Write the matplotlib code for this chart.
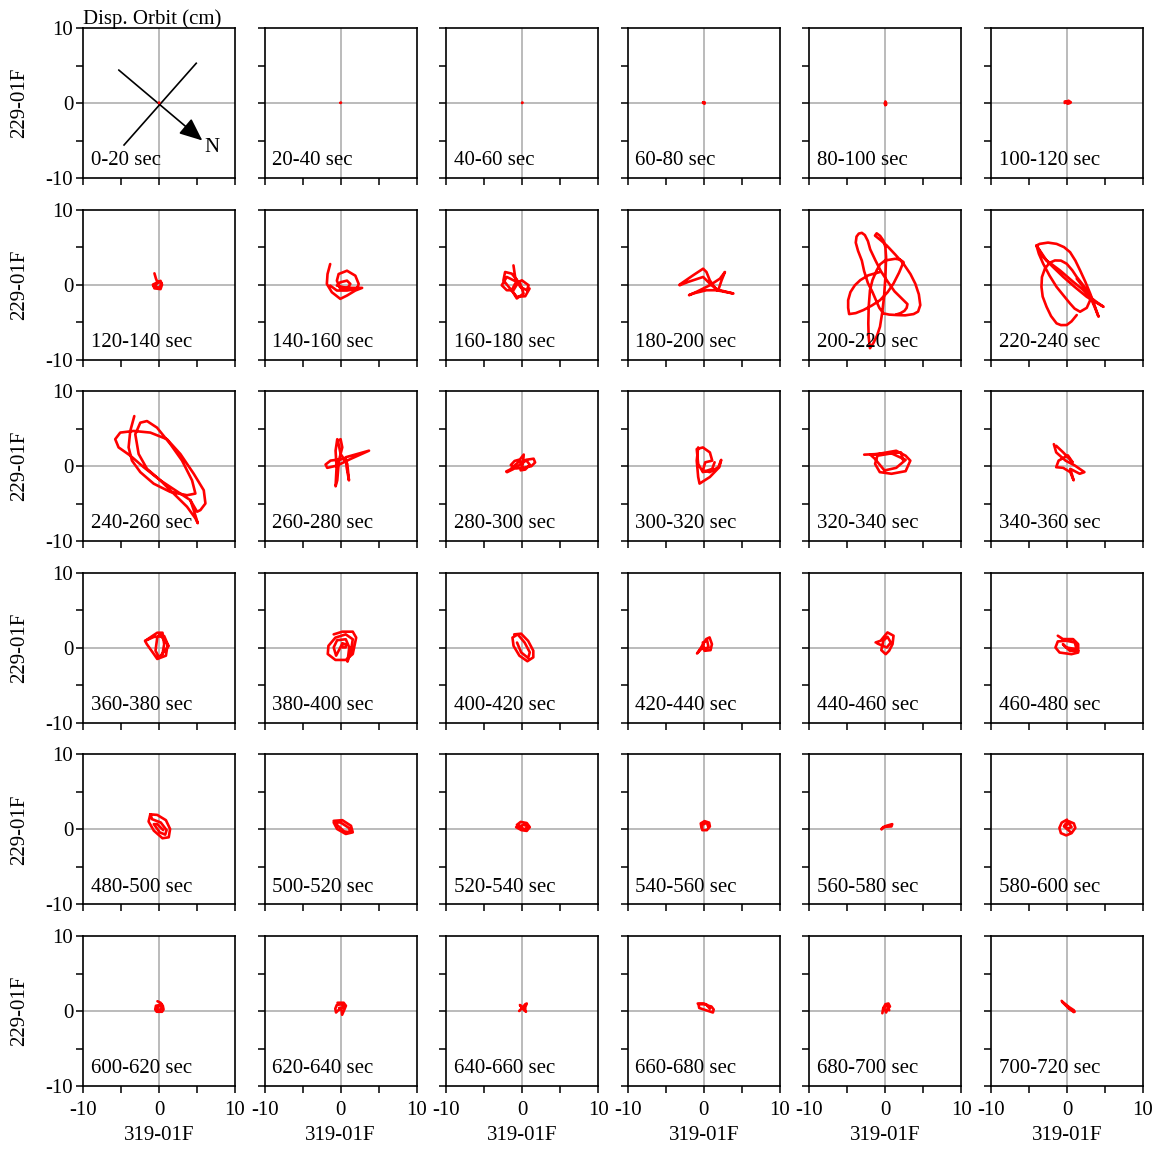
import matplotlib
matplotlib.use("Agg")
import matplotlib.pyplot as plt

plt.rcParams['font.family'] = ['Liberation Serif', 'DejaVu Serif']

W, H = 1161, 1151

# ---- data -------------------------------------------------------------
window_labels = ["0-20 sec", "20-40 sec", "40-60 sec", "60-80 sec", "80-100 sec", "100-120 sec",
                 "120-140 sec", "140-160 sec", "160-180 sec", "180-200 sec", "200-220 sec", "220-240 sec",
                 "240-260 sec", "260-280 sec", "280-300 sec", "300-320 sec", "320-340 sec", "340-360 sec",
                 "360-380 sec", "380-400 sec", "400-420 sec", "420-440 sec", "440-460 sec", "460-480 sec",
                 "480-500 sec", "500-520 sec", "520-540 sec", "540-560 sec", "560-580 sec", "580-600 sec",
                 "600-620 sec", "620-640 sec", "640-660 sec", "660-680 sec", "680-700 sec", "700-720 sec"]

x_tick_labels = ["-10", "0", "10"]
y_tick_labels = ["-10", "0", "10"]
all_ticks = [-10, -5, 0, 5, 10]
x_axis_name = "319-01F"
y_axis_name = "229-01F"
title_text = "Disp. Orbit (cm)"

# orientation guide in first panel
guide_line_a = [(-5.3, 4.4), (5.7, -5.0)]
guide_line_b = [(-4.6, -5.6), (4.9, 5.3)]
north_label = (7.0, -5.9)

orbit_000 = [(0.0, 0.0), (0.05, 0.05), (0.0, 0.05)]
orbit_020 = [(0.0, 0.0), (0.05, 0.05), (0.0, 0.05)]
orbit_040 = [(0.0, 0.0), (0.05, 0.05), (0.0, 0.05)]
orbit_060 = [(-0.1, 0.0), (0.1, 0.1), (0.1, -0.1), (-0.1, 0.1)]
orbit_080 = [(0.0, -0.3), (0.1, 0.0), (0.0, 0.2), (-0.1, -0.1), (0.1, -0.2)]
orbit_100 = [(-0.3, 0.0), (0.2, 0.3), (0.5, 0.1), (0.1, -0.1), (-0.3, 0.2), (0.4, 0.0)]
orbit_120 = [(-0.6, 1.5), (-0.4, 0.8), (-0.2, 0.3), (-0.8, 0.0), (-0.6, -0.5), (0.2, -0.6), (0.4, 0.0),
             (0.2, 0.5), (-0.3, 0.2), (-0.5, -0.3), (0.1, -0.4), (0.3, 0.2), (-0.1, 0.4), (-0.7, -0.2)]
orbit_140 = [(-1.37, 2.74), (-1.72, 1.41), (-1.81, 0.09), (-1.15, -1.02), (-0.04, -1.90), (0.84, -1.46),
             (1.94, -0.79), (2.83, -0.44), (1.50, -0.44), (0.40, -0.35), (-0.49, -0.13), (-0.04, 0.31),
             (0.84, 0.53), (1.28, 0.09), (0.84, -0.57), (-0.04, -0.57), (-0.49, 0.53), (-0.26, 1.41),
             (0.84, 1.85), (1.94, 1.19), (2.38, 0.09), (2.16, -0.57), (0.84, -0.79), (-0.49, -0.79),
             (-1.37, -0.13)]
orbit_160 = [(-1.15, 2.56), (-0.93, 1.02), (-0.26, -0.31), (0.62, -0.75), (0.84, -0.09), (-0.04, 0.57),
             (-0.93, 0.13), (-1.37, -0.75), (-0.71, -1.85), (0.18, -1.19), (-0.26, 0.13), (-2.03, 1.02),
             (-2.69, -0.09), (-2.03, -0.75), (-1.15, -0.75), (-0.49, 0.35), (-1.37, 1.46), (-2.25, 1.68),
             (-2.47, 0.57), (-1.59, -0.53), (-0.71, -1.63), (0.40, -1.55), (0.97, -0.53)]
orbit_180 = [(-3.18, 0.0), (-1.41, 1.24), (-0.09, 2.12), (0.35, 1.68), (0.79, 0.57), (1.68, -0.75),
             (3.89, -1.19), (2.12, -0.75), (0.35, -0.75), (-1.41, -1.19), (-1.94, -1.41), (-0.97, -0.97),
             (0.79, -0.09), (2.12, 0.79), (2.78, 1.68), (2.34, 0.57), (1.90, -0.75), (1.02, -0.09),
             (-0.09, 1.02), (-2.08, 0.35), (-3.18, -0.09)]
orbit_200 = [(-0.71, 1.68), (-2.25, 1.24), (-3.30, 0.60), (-4.02, -0.09), (-4.60, -1.00), (-4.90, -2.08),
             (-4.90, -3.10), (-4.77, -3.93), (-3.90, -3.80), (-2.91, -3.40), (-1.80, -2.80), (-0.71, -2.08),
             (0.30, -1.00), (1.06, 0.13), (1.80, 1.60), (2.38, 3.00), (1.90, 3.35), (1.28, 3.44),
             (-0.04, 3.22), (-0.70, 2.70), (-1.15, 1.90), (-1.70, 0.60), (-2.03, -0.75), (-2.20, -3.00),
             (-2.25, -5.17), (-2.20, -7.00), (-2.03, -8.48), (-1.59, -7.81), (-1.10, -6.80), (-0.71, -5.61),
             (-0.40, -3.60), (-0.18, -1.63), (0.00, 1.00), (0.09, 3.66), (0.00, 5.00), (-0.26, 5.87),
             (-0.70, 6.50), (-1.15, 6.84), (-1.37, 6.53), (-0.60, 5.90), (0.18, 5.21), (1.30, 4.00),
             (2.38, 2.78), (3.30, 1.40), (3.93, 0.13), (4.40, -1.30), (4.59, -2.74), (4.30, -3.60),
             (3.71, -3.93), (2.60, -4.10), (1.50, -4.06), (0.50, -4.00), (-0.26, -3.84), (-0.80, -3.10),
             (-1.15, -2.30), (-1.70, -1.00), (-2.30, 0.20), (-2.80, 1.80), (-3.10, 3.20), (-3.60, 4.50),
             (-3.90, 5.60), (-3.80, 6.40), (-3.50, 6.80), (-3.10, 6.90), (-2.70, 6.60), (-2.30, 5.80),
             (-2.00, 4.70), (-1.30, 3.20), (-0.60, 1.80), (0.30, 0.40), (1.20, -0.90), (2.10, -1.80),
             (2.90, -2.60), (2.80, -3.10), (2.50, -3.50), (2.00, -3.80), (1.40, -4.00)]
orbit_220 = [(1.28, -4.06), (0.60, -4.90), (-0.04, -5.39), (-0.80, -5.40), (-1.37, -5.17), (-2.10, -4.20),
             (-2.69, -2.96), (-3.20, -1.60), (-3.36, -0.31), (-3.30, 1.00), (-2.91, 2.12), (-2.30, 2.90),
             (-1.59, 3.22), (-0.80, 3.20), (-0.04, 2.78), (0.70, 1.90), (1.28, 1.02), (2.00, 0.10),
             (2.60, -0.75), (3.00, -1.40), (3.05, -2.08), (2.60, -3.10), (1.72, -3.62), (1.00, -3.20),
             (0.40, -2.52), (-0.50, -1.40), (-1.37, -0.31), (-2.30, 1.20), (-3.13, 2.78), (-3.70, 4.10),
             (-4.02, 5.21), (-3.58, 5.43), (-2.50, 5.60), (-1.37, 5.43), (-0.40, 5.00), (0.40, 4.33),
             (1.10, 3.20), (1.72, 1.90), (2.40, 0.40), (3.05, -1.19), (3.60, -2.70), (4.15, -4.28),
             (3.60, -2.90), (3.05, -1.63), (2.00, -0.60), (0.84, 0.35), (-0.93, 1.90), (-2.69, 3.22),
             (-4.02, 5.21), (-3.13, 3.66), (-1.80, 2.30), (-0.49, 1.02), (1.00, -0.30), (2.60, -1.63),
             (3.70, -2.30), (4.81, -2.96), (4.00, -2.40), (3.27, -1.85), (2.30, -0.50), (1.28, 0.79)]
orbit_240 = [(-3.25, 6.68), (-3.78, 4.70), (-4.00, 2.51), (-3.56, 0.75), (-2.46, -0.79), (-0.70, -2.33),
             (1.49, -3.43), (3.69, -3.87), (4.79, -3.65), (4.35, -1.89), (3.03, 0.75), (1.49, 2.95),
             (-0.26, 5.14), (-1.58, 6.02), (-2.46, 5.80), (-3.12, 4.26), (-2.68, 1.63), (-1.58, -0.35),
             (0.18, -1.89), (2.15, -3.21), (4.13, -4.53), (5.01, -6.07), (5.45, -5.85), (6.11, -4.97),
             (5.89, -3.21), (4.57, -1.01), (2.81, 1.63), (1.05, 3.60), (-1.14, 4.48), (-3.34, 4.70),
             (-5.10, 4.48), (-5.76, 3.60), (-5.32, 2.51), (-3.78, 1.41), (-2.02, -0.13), (0.18, -1.89),
             (1.93, -3.65), (3.69, -5.41), (4.79, -6.95), (5.10, -7.60), (4.57, -5.85), (4.13, -4.53)]
orbit_260 = [(-0.44, 3.60), (-0.66, 2.07), (-0.53, -0.13), (-0.66, -2.68), (-0.44, -1.89), (-0.22, 0.75),
             (0.22, 2.51), (0.0, 3.60), (-0.35, 3.38), (0.0, 1.63), (0.88, 0.31), (1.10, -1.89),
             (0.79, -0.13), (0.66, 1.19), (3.74, 2.07), (1.32, 0.97), (-0.44, 0.09), (-1.76, -0.22),
             (-1.98, 0.22), (-1.32, 0.75), (0.44, 0.97)]
orbit_280 = [(-2.0, -0.8), (-1.2, -0.4), (-0.3, 0.2), (0.5, 0.85), (1.5, 1.0), (1.7, 0.5), (1.2, 0.0),
             (0.2, -0.2), (-0.8, -0.3), (-1.5, 0.15), (-1.0, 0.7), (-0.3, 0.9), (0.2, 1.55), (0.1, 0.35),
             (-0.2, -0.55), (0.4, -0.45), (1.0, 0.2), (0.6, 0.7), (-0.5, 0.55), (-1.6, -0.45), (-2.1, -0.7)]
orbit_300 = [(-0.74, 2.50), (-0.93, 0.74), (-0.74, -1.44), (-0.56, -2.32), (0.80, -1.44), (2.04, -0.13),
             (2.29, 0.84), (1.92, -0.13), (0.80, -0.79), (-0.12, -0.57), (0.19, 0.52), (1.11, 0.74),
             (0.80, 1.84), (-0.12, 2.50), (-0.93, 2.28), (-0.74, 0.30), (-0.12, -0.79), (1.11, -0.35),
             (1.42, 0.52)]
orbit_320 = [(-2.79, 1.54), (-1.05, 1.62), (1.42, 2.06), (2.66, 1.40), (3.28, 0.74), (2.66, -0.66),
             (0.80, -1.01), (-0.74, -0.79), (-1.36, 0.30), (-1.05, 1.40), (0.80, 1.71), (2.66, 0.84),
             (1.42, -0.22), (-0.12, -0.57), (-1.36, 0.96), (-1.98, 1.54), (2.04, 1.84), (2.35, 0.74)]
orbit_340 = [(-1.73, 2.94), (-1.42, 1.84), (-0.19, 0.74), (1.05, 0.08), (2.29, -0.79), (1.67, -1.01),
             (0.43, -0.35), (0.87, -1.88), (0.43, -0.79), (-0.50, -0.22), (-1.42, -0.13), (-1.11, 0.74),
             (0.12, 1.44), (0.74, 0.52), (-0.50, 1.84), (-1.42, 2.72)]
orbit_360 = [(-1.83, 0.92), (-0.68, 1.45), (0.68, 1.57), (1.14, 0.48), (0.91, -1.05), (-0.23, -1.49),
             (-0.68, -0.83), (-1.60, 0.48), (-1.83, 0.92), (-0.23, 2.01), (0.46, 2.01), (0.68, 0.48),
             (0.46, -0.83), (0.0, -1.27), (-0.46, -0.39), (-0.23, 1.36), (0.09, 1.79), (1.28, 0.26),
             (0.23, -1.05)]
orbit_380 = [(-0.91, 1.79), (0.23, 2.15), (1.60, 2.15), (2.05, 1.36), (1.60, -0.83), (0.68, -1.62),
             (-0.68, -1.62), (-1.69, -0.83), (-1.60, 0.26), (-0.68, 1.36), (0.68, 1.79), (1.60, 1.14),
             (1.37, -0.39), (0.91, -1.84), (1.14, 0.05), (0.68, 1.14), (-0.46, 1.01), (-0.91, 0.05),
             (-0.59, -1.05), (0.23, 0.57), (0.68, 0.48), (0.68, 0.05), (0.23, 0.05), (0.23, 0.57)]
orbit_400 = [(-1.05, 1.79), (-0.14, 1.88), (0.78, 0.92), (1.46, -0.39), (1.46, -1.27), (0.68, -1.79),
             (-0.37, -1.05), (-1.14, 0.26), (-1.28, 1.36), (-0.59, 1.79), (0.32, 0.70), (1.00, -0.61),
             (0.78, -1.36), (-0.14, -0.61), (-0.68, 0.70)]
orbit_420 = [(-0.80, -0.63), (-0.36, 0.04), (0.31, 1.16), (0.76, 1.38), (1.07, 0.49), (0.89, -0.31),
             (0.09, -0.40), (-0.13, 0.71), (0.45, 0.94), (0.63, 0.04), (-0.36, -0.18), (-0.89, -0.76)]
orbit_440 = [(-1.29, 0.71), (-0.63, 0.94), (0.27, 2.05), (1.07, 1.61), (0.94, 0.49), (0.49, -0.40),
             (0.04, -0.85), (-0.54, -0.31), (-0.27, 0.94), (0.27, 1.47), (0.71, 0.71), (0.18, 0.04),
             (-1.07, 0.58)]
orbit_460 = [(-1.21, 1.61), (-0.54, 1.16), (0.80, 1.16), (1.47, 0.49), (1.47, -0.63), (0.58, -0.85),
             (-0.98, -0.63), (-1.52, 0.04), (-1.21, 0.85), (-0.09, 0.94), (1.03, 0.71), (1.25, -0.18),
             (-0.09, 0.04), (-0.54, 0.49), (0.36, -0.40), (1.47, -0.40)]
orbit_480 = [(-1.14, 2.01), (-0.23, 1.93), (0.91, 1.23), (1.46, 0.05), (1.28, -1.05), (0.46, -1.18),
             (-0.68, -0.17), (-1.37, 1.05), (-1.14, 2.01), (-0.91, 1.36), (0.23, 0.92), (1.00, -0.09),
             (0.82, -0.70), (0.09, -0.39), (-0.68, 0.70), (-0.23, 0.70), (0.55, -0.09)]
orbit_500 = [(-0.91, 1.14), (0.23, 1.23), (1.37, 0.48), (1.60, -0.39), (0.68, -0.61), (-0.46, 0.05),
             (-0.91, 0.92), (0.0, 0.92), (1.14, 0.17), (1.23, -0.39), (0.46, -0.26), (-0.59, 0.70)]
orbit_520 = [(-0.7, 0.6), (-0.2, 1.0), (0.6, 0.85), (1.0, 0.3), (0.6, -0.2), (-0.1, -0.1), (-0.8, 0.3),
             (0.2, 0.6), (0.8, 0.4), (0.3, 0.0), (-0.5, 0.5)]
orbit_540 = [(-0.3, 0.2), (-0.4, 0.8), (0.1, 1.1), (0.7, 0.9), (0.8, 0.4), (0.4, -0.1), (-0.2, -0.1),
             (-0.2, 0.6), (0.4, 0.9), (0.6, 0.3)]
orbit_560 = [(-0.5, 0.0), (-0.3, 0.3), (0.2, 0.5), (0.9, 0.7), (0.8, 0.4), (0.0, 0.35), (-0.5, 0.1)]
orbit_580 = [(0.0, 1.3), (-0.7, 0.9), (-1.0, 0.2), (-0.8, -0.5), (-0.1, -0.8), (0.6, -0.5), (1.1, 0.2),
             (0.9, 0.8), (0.2, 1.1), (-0.3, 0.6), (0.0, 0.1), (0.6, 0.3), (0.3, 0.8), (-0.4, 0.4),
             (0.4, -0.3)]
orbit_600 = [(-0.2, 1.3), (0.2, 1.1), (0.5, 0.7), (0.6, 0.2), (0.4, -0.1), (-0.3, -0.1), (-0.5, 0.2),
             (-0.4, 0.7), (0.1, 0.8), (0.4, 0.4), (0.0, 0.1), (-0.3, 0.4), (0.3, 0.9)]
orbit_620 = [(-0.4, 1.1), (0.4, 1.1), (0.7, 0.7), (0.5, 0.2), (0.2, -0.5), (0.1, 0.3), (-0.3, 0.1),
             (-0.6, -0.2), (-0.7, 0.3), (-0.5, 0.8), (0.1, 0.9), (0.5, 0.5), (-0.2, 0.4)]
orbit_640 = [(-0.4, 0.0), (0.0, 0.4), (0.4, 0.9), (0.6, 1.0), (0.4, 0.5), (0.4, 0.0), (0.1, 0.3),
             (-0.2, 0.7), (-0.3, 0.8), (0.1, 0.3), (0.5, -0.1)]
orbit_660 = [(-0.8, 1.0), (0.0, 1.0), (0.6, 0.7), (1.0, 0.6), (1.3, 0.2), (1.2, -0.2), (0.6, 0.0),
             (0.0, 0.2), (-0.6, 0.4), (-0.7, 0.9), (0.3, 0.9), (0.8, 0.3)]
orbit_680 = [(-0.4, -0.3), (-0.3, 0.3), (0.0, 0.9), (0.4, 1.0), (0.6, 0.6), (0.2, 0.2), (0.1, -0.2),
             (-0.2, 0.5), (0.3, 0.7), (0.5, 0.1)]
orbit_700 = [(-0.7, 1.35), (-0.4, 1.0), (0.0, 0.6), (0.5, 0.2), (1.0, -0.1), (0.9, 0.1), (0.3, 0.5),
             (-0.2, 0.9), (-0.6, 1.2), (0.2, 0.4), (0.9, -0.15)]

orbits = [orbit_000, orbit_020, orbit_040, orbit_060, orbit_080, orbit_100,
          orbit_120, orbit_140, orbit_160, orbit_180, orbit_200, orbit_220,
          orbit_240, orbit_260, orbit_280, orbit_300, orbit_320, orbit_340,
          orbit_360, orbit_380, orbit_400, orbit_420, orbit_440, orbit_460,
          orbit_480, orbit_500, orbit_520, orbit_540, orbit_560, orbit_580,
          orbit_600, orbit_620, orbit_640, orbit_660, orbit_680, orbit_700]

# ---- layout -------------------------------------------------------------
fig = plt.figure(figsize=(W / 100, H / 100), dpi=100)
col_left = [83 + 181.6 * i for i in range(6)]
row_top = [28 + 181.6 * j for j in range(6)]
ax_w, ax_h = 152, 150
FS = 15

for idx in range(36):
    r, c = divmod(idx, 6)
    left = col_left[c] / W
    bottom = 1 - (row_top[r] + ax_h) / H
    ax = fig.add_axes([left, bottom, ax_w / W, ax_h / H])
    ax.set_xlim(-10, 10)
    ax.set_ylim(-10, 10)
    ax.axhline(0, color='#a8a8a8', lw=1.1, zorder=1)
    ax.axvline(0, color='#a8a8a8', lw=1.1, zorder=1)
    pts = orbits[idx]
    xs = [p[0] for p in pts]
    ys = [p[1] for p in pts]
    ax.plot(xs, ys, color='#ff0000', lw=1.9, solid_joinstyle='round',
            solid_capstyle='round', zorder=3)
    ax.set_xticks(all_ticks)
    ax.set_yticks(all_ticks)
    if c == 0:
        ax.set_yticklabels([y_tick_labels[0], "", y_tick_labels[1], "", y_tick_labels[2]])
    else:
        ax.set_yticklabels([])
    if r == 5:
        ax.set_xticklabels([x_tick_labels[0], "", x_tick_labels[1], "", x_tick_labels[2]])
    else:
        ax.set_xticklabels([])
    ax.tick_params(axis='y', direction='out', length=5, width=1.1, labelsize=FS, pad=2,
                   right=False, colors='black')
    ax.tick_params(axis='x', direction='out', length=5, width=1.1, labelsize=FS, pad=6,
                   top=False, colors='black')
    for s in ax.spines.values():
        s.set_linewidth(1.2)
        s.set_color('black')
    ax.text(0.05, 0.115, window_labels[idx], transform=ax.transAxes,
            fontsize=FS, ha='left', va='center', zorder=4)

    if idx == 0:
        ax.plot([guide_line_b[0][0], guide_line_b[1][0]], [guide_line_b[0][1], guide_line_b[1][1]],
                color='black', lw=1.2, zorder=2)
        ax.annotate("", xy=guide_line_a[1], xytext=guide_line_a[0],
                    arrowprops=dict(arrowstyle='-|>,head_length=1.4,head_width=0.6',
                                    color='black', lw=1.2, shrinkA=0, shrinkB=0), zorder=2)
        ax.text(north_label[0], north_label[1], "N", fontsize=FS, ha='center', va='center')
        ax.text(-10.0, 9.9, title_text, fontsize=FS, ha='left', va='bottom')

    if c == 0:
        yc = 1 - (row_top[r] + ax_h / 2) / H
        fig.text(20 / W, yc, y_axis_name, rotation=90, fontsize=FS, ha='center', va='center')
    if r == 5:
        xc = (col_left[c] + ax_w / 2) / W
        fig.text(xc, 1 - 1135 / H, x_axis_name, fontsize=FS, ha='center', va='center')

fig.savefig("out.png", dpi=100)
